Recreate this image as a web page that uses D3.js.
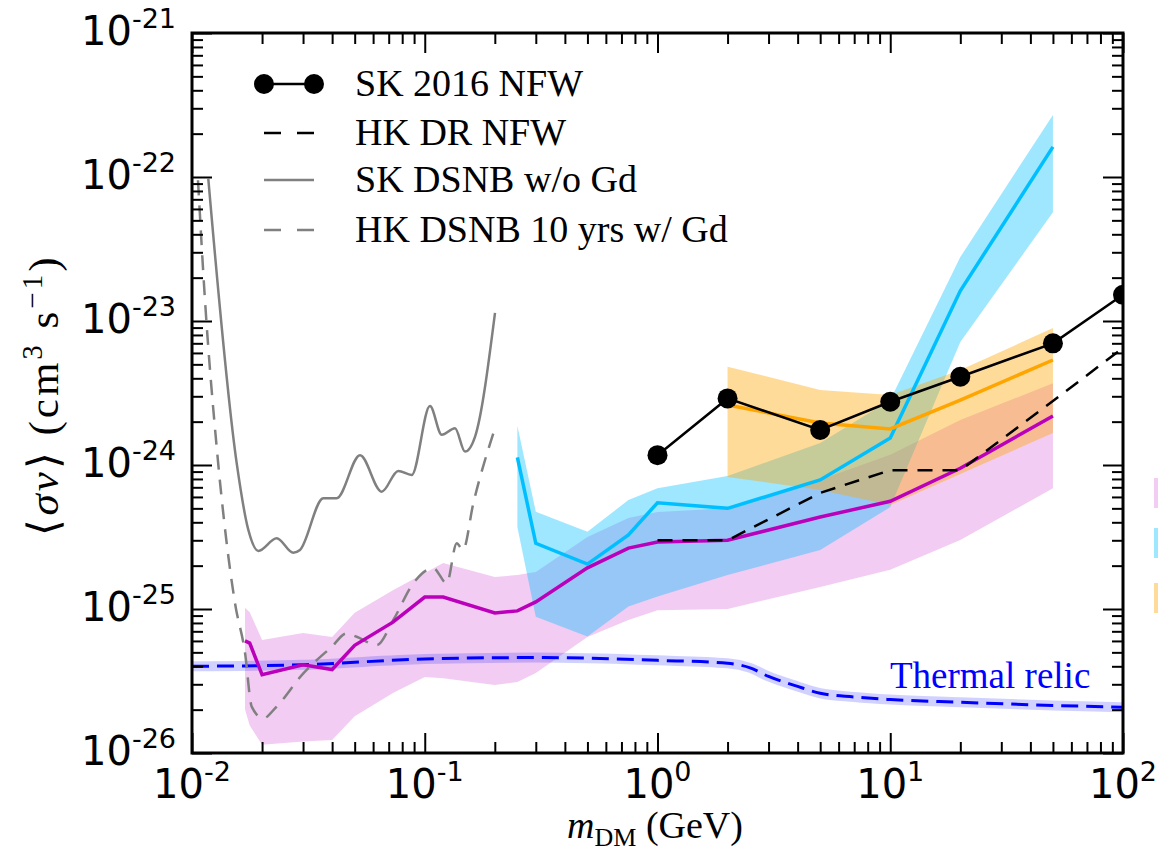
<!DOCTYPE html>
<html lang="en">
<head>
<meta charset="UTF-8">
<title>DM annihilation limits</title>
<script src="https://cdn.jsdelivr.net/npm/d3@7"></script>
<style>
  body { margin: 0; background: #ffffff; }
  svg { display: block; }
</style>
</head>
<body>
<div id="chart"></div>
<script>
// ---- data (mass in GeV, <sigma v> in cm^3/s) ----
var xTickExps = [-2, -1, 0, 1, 2];
var yTickExps = [-26, -25, -24, -23, -22, -21];

var thermalMass = [0.01, 0.03, 0.1, 0.3, 1, 2, 2.5, 3, 4, 5, 7, 10, 20, 50, 100];
var thermalSv = [4.0e-26, 4.1e-26, 4.5e-26, 4.6e-26, 4.4e-26, 4.2e-26, 3.9e-26, 3.4e-26, 2.9e-26, 2.6e-26, 2.45e-26, 2.35e-26, 2.25e-26, 2.14e-26, 2.08e-26];

var pinkMass = [0.0169, 0.0177, 0.02, 0.03, 0.04, 0.05, 0.073, 0.1, 0.12, 0.2, 0.25, 0.3, 0.5, 0.75, 1, 2, 5, 10, 20, 50];
var pinkMid = [6.0e-26, 5.8e-26, 3.5e-26, 4.1e-26, 3.8e-26, 5.6e-26, 8.1e-26, 1.21e-25, 1.21e-25, 9.4e-26, 9.7e-26, 1.12e-25, 1.93e-25, 2.65e-25, 2.92e-25, 3.0e-25, 4.35e-25, 5.6e-25, 9.5e-25, 2.19e-24];
var pinkHi = [1.02e-25, 9.5e-26, 6.1e-26, 6.8e-26, 6.4e-26, 9.4e-26, 1.35e-25, 1.78e-25, 2.09e-25, 1.67e-25, 1.72e-25, 1.81e-25, 3.16e-25, 4.29e-25, 4.72e-25, 5.0e-25, 7.9e-25, 1.18e-24, 2.05e-24, 3.7e-24];
var pinkLo = [2.0e-26, 1.55e-26, 1.14e-26, 1.2e-26, 1.23e-26, 1.8e-26, 2.61e-26, 3.37e-26, 3.3e-26, 2.97e-26, 3.11e-26, 3.6e-26, 6.4e-26, 8.4e-26, 9.8e-26, 1.0e-25, 1.42e-25, 1.87e-25, 3.01e-25, 6.9e-25];

var blueMass = [0.25, 0.3, 0.5, 0.75, 1, 2, 5, 10, 20, 50];
var blueMid = [1.13e-24, 2.86e-25, 2.05e-25, 3.27e-25, 5.47e-25, 5.0e-25, 7.87e-25, 1.54e-24, 1.62e-23, 1.62e-22];
var blueHi = [1.87e-24, 4.74e-25, 3.44e-25, 5.71e-25, 6.89e-25, 8.4e-25, 1.42e-24, 2.83e-24, 2.78e-23, 2.7e-22];
var blueLo = [3.71e-25, 8.85e-26, 6.43e-26, 1.04e-25, 1.22e-25, 1.72e-25, 2.57e-25, 5.1e-25, 7.14e-24, 5.7e-23];

var orangeMass = [2, 5, 10, 20, 50];
var orangeMid = [2.61e-24, 1.96e-24, 1.78e-24, 2.82e-24, 5.36e-24];
var orangeHi = [4.82e-24, 3.32e-24, 3.06e-24, 4.57e-24, 8.93e-24];
var orangeLo = [8.26e-25, 6.7e-25, 5.27e-25, 8.66e-25, 1.67e-24];

var skMass = [1, 2, 5, 10, 20, 50, 100];
var skSv = [1.17e-24, 2.9e-24, 1.75e-24, 2.75e-24, 4.1e-24, 7.0e-24, 1.52e-23];

var hkMass = [1, 2, 5, 10, 20, 50, 100];
var hkSv = [3.0e-25, 3.0e-25, 6.4e-25, 9.2e-25, 9.2e-25, 2.78e-24, 6.5e-24];

var skDsnbMass = [0.01175, 0.01556, 0.01746, 0.01928, 0.02312, 0.02724, 0.0291, 0.03665, 0.04185, 0.05271, 0.06531, 0.07697, 0.0879, 0.1053, 0.1183, 0.1349, 0.1489, 0.1644, 0.2004];
var skDsnbSv = [9.7e-23, 1.03e-24, 3.54e-25, 2.53e-25, 3.1e-25, 2.46e-25, 2.57e-25, 5.88e-25, 5.88e-25, 1.17e-24, 6.53e-25, 9.1e-25, 8.53e-25, 2.57e-24, 1.62e-24, 1.8e-24, 1.24e-24, 1.57e-24, 1.14e-23];

var hkDsnbMass = [0.01061, 0.01137, 0.0128, 0.0153, 0.0169, 0.01805, 0.02025, 0.02273, 0.03008, 0.03983, 0.04621, 0.05101, 0.06218, 0.07326, 0.08932, 0.1088, 0.1243, 0.1372, 0.146, 0.1617, 0.197];
var hkDsnbSv = [9.5e-23, 1.4e-23, 1.27e-24, 1.1e-25, 4.95e-26, 2.1e-26, 1.74e-26, 2.04e-26, 3.57e-26, 5.47e-26, 6.77e-26, 6.42e-26, 5.62e-26, 8.39e-26, 1.51e-25, 1.92e-25, 1.51e-25, 2.86e-25, 2.57e-25, 5.42e-25, 1.66e-24];

var legendLabels = ["SK 2016 NFW", "HK DR NFW", "SK DSNB w/o Gd", "HK DSNB 10 yrs w/ Gd"];

// ---- layout ----
var w = 1158, h = 861;
var pLeft = 192, pRight = 1123, pTop = 33, pBottom = 753;
var serif = "'Liberation Serif', 'Times New Roman', serif";
var sans = "'DejaVu Sans', sans-serif";

var svg = d3.select("#chart").append("svg")
    .attr("width", w)
    .attr("height", h);

var x = d3.scaleLog().domain([1e-2, 1e2]).range([pLeft, pRight]);
var y = d3.scaleLog().domain([1e-26, 1e-21]).range([pBottom, pTop]);

function zip(ms, vs) {
    return ms.map(function(m, i) { return [m, vs[i]]; });
}
function zipBand(ms, lo, hi) {
    return ms.map(function(m, i) { return {m: m, lo: lo[i], hi: hi[i]}; });
}

svg.append("clipPath").attr("id", "plotclip")
    .append("rect")
    .attr("x", pLeft).attr("y", pTop)
    .attr("width", pRight - pLeft).attr("height", pBottom - pTop);

var plot = svg.append("g").attr("clip-path", "url(#plotclip)");

var area = d3.area()
    .x(function(d) { return x(d.m); })
    .y0(function(d) { return y(d.lo); })
    .y1(function(d) { return y(d.hi); });

var line = d3.line()
    .x(function(d) { return x(d[0]); })
    .y(function(d) { return y(d[1]); });

var smooth = d3.line()
    .curve(d3.curveMonotoneX)
    .x(function(d) { return x(d[0]); })
    .y(function(d) { return y(d[1]); });

// bands
plot.append("path")
    .attr("d", area(zipBand(pinkMass, pinkLo, pinkHi)))
    .attr("fill", "#bf00bf").attr("fill-opacity", 0.2);
plot.append("path")
    .attr("d", area(zipBand(blueMass, blueLo, blueHi)))
    .attr("fill", "#00bfff").attr("fill-opacity", 0.38);
plot.append("path")
    .attr("d", area(zipBand(orangeMass, orangeLo, orangeHi)))
    .attr("fill", "#ffa500").attr("fill-opacity", 0.4);

// thermal relic
plot.append("path")
    .attr("d", smooth(zip(thermalMass, thermalSv)))
    .attr("fill", "none").attr("stroke", "#0000ff")
    .attr("stroke-opacity", 0.18).attr("stroke-width", 10);
plot.append("path")
    .attr("d", smooth(zip(thermalMass, thermalSv)))
    .attr("fill", "none").attr("stroke", "#0000ff")
    .attr("stroke-width", 3).attr("stroke-dasharray", "17,8");

// DSNB curves
plot.append("path")
    .attr("d", smooth(zip(skDsnbMass, skDsnbSv)))
    .attr("fill", "none").attr("stroke", "#808080").attr("stroke-width", 2.5);
plot.append("path")
    .attr("d", smooth(zip(hkDsnbMass, hkDsnbSv)))
    .attr("fill", "none").attr("stroke", "#808080").attr("stroke-width", 2.5)
    .attr("stroke-dasharray", "15,10");

// central lines of the bands
plot.append("path")
    .attr("d", line(zip(pinkMass, pinkMid)))
    .attr("fill", "none").attr("stroke", "#bb00bb").attr("stroke-width", 3.5);
plot.append("path")
    .attr("d", line(zip(blueMass, blueMid)))
    .attr("fill", "none").attr("stroke", "#00bfff").attr("stroke-width", 3.5);
plot.append("path")
    .attr("d", line(zip(orangeMass, orangeMid)))
    .attr("fill", "none").attr("stroke", "#ffa500").attr("stroke-width", 3.5);

// HK DR
plot.append("path")
    .attr("d", line(zip(hkMass, hkSv)))
    .attr("fill", "none").attr("stroke", "#000").attr("stroke-width", 2.5)
    .attr("stroke-dasharray", "15,10");

// SK 2016
plot.append("path")
    .attr("d", line(zip(skMass, skSv)))
    .attr("fill", "none").attr("stroke", "#000").attr("stroke-width", 2.5);
plot.selectAll(".sk-dot")
    .data(zip(skMass, skSv))
    .enter()
    .append("circle")
    .attr("class", "sk-dot")
    .attr("cx", function(d) { return x(d[0]); })
    .attr("cy", function(d) { return y(d[1]); })
    .attr("r", 10)
    .attr("fill", "#000");

plot.append("text")
    .attr("x", 890).attr("y", 688)
    .attr("font-family", serif).attr("font-size", 37)
    .attr("fill", "#0000ff")
    .text("Thermal relic");

// ---- axes: ticks point inward on all four sides ----
var xMajor = xTickExps.map(function(e) { return Math.pow(10, e); });
var yMajor = yTickExps.map(function(e) { return Math.pow(10, e); });
function minors(exps) {
    var out = [];
    for (var i = 0; i < exps.length - 1; i++) {
        for (var k = 2; k <= 9; k++) out.push(k * Math.pow(10, exps[i]));
    }
    return out;
}
var xMinor = minors(xTickExps);
var yMinor = minors(yTickExps);

function addAxis(axisFn, scale, vals, len, transform) {
    var g = svg.append("g")
        .attr("transform", transform)
        .call(axisFn(scale).tickValues(vals).tickSize(-len).tickFormat(""));
    g.select(".domain").remove();
    g.selectAll("line").attr("stroke", "#000").attr("stroke-width", 2);
}
addAxis(d3.axisBottom, x, xMajor, 20, "translate(0," + pBottom + ")");
addAxis(d3.axisBottom, x, xMinor, 11, "translate(0," + pBottom + ")");
addAxis(d3.axisTop, x, xMajor, 20, "translate(0," + pTop + ")");
addAxis(d3.axisTop, x, xMinor, 11, "translate(0," + pTop + ")");
addAxis(d3.axisLeft, y, yMajor, 20, "translate(" + pLeft + ",0)");
addAxis(d3.axisLeft, y, yMinor, 11, "translate(" + pLeft + ",0)");
addAxis(d3.axisRight, y, yMajor, 20, "translate(" + pRight + ",0)");
addAxis(d3.axisRight, y, yMinor, 11, "translate(" + pRight + ",0)");

svg.append("rect")
    .attr("x", pLeft).attr("y", pTop)
    .attr("width", pRight - pLeft).attr("height", pBottom - pTop)
    .attr("fill", "none").attr("stroke", "#000").attr("stroke-width", 3);

// tick labels as 10^n
function powLabel(sel, e) {
    sel.append("tspan").attr("font-size", 40).text("10");
    sel.append("tspan").attr("font-size", 27).attr("dy", -17).text(String(e));
}
xTickExps.forEach(function(e) {
    var t = svg.append("text")
        .attr("x", x(Math.pow(10, e)))
        .attr("y", 798)
        .attr("text-anchor", "middle")
        .attr("font-family", sans);
    powLabel(t, e);
});
yTickExps.forEach(function(e) {
    var t = svg.append("text")
        .attr("x", 176)
        .attr("y", y(Math.pow(10, e)) + 12)
        .attr("text-anchor", "end")
        .attr("font-family", sans);
    powLabel(t, e);
});

// axis titles
var xl = svg.append("text")
    .attr("x", 655).attr("y", 838)
    .attr("text-anchor", "middle")
    .attr("font-family", serif).attr("font-size", 38);
xl.append("tspan").attr("font-style", "italic").text("m");
xl.append("tspan").attr("font-size", 26).attr("dy", 8).text("DM");
xl.append("tspan").attr("dy", -8).text(" (GeV)");

var yl = svg.append("text")
    .attr("transform", "translate(58,395) rotate(-90)")
    .attr("text-anchor", "middle")
    .attr("font-family", serif).attr("font-size", 43)
    .attr("letter-spacing", 3);
yl.append("tspan").text("\u27E8");
yl.append("tspan").attr("font-style", "italic").text("\u03C3v");
yl.append("tspan").text("\u27E9 (cm");
yl.append("tspan").attr("font-size", 29).attr("dy", -16).text("3");
yl.append("tspan").attr("dy", 16).text(" s");
yl.append("tspan").attr("font-size", 29).attr("dy", -16).text("\u22121");
yl.append("tspan").attr("dy", 16).text(")");

// ---- legend ----
var legY = [84, 133, 180, 230];
var lx0 = 264, lx1 = 314, tx = 355;
svg.append("line")
    .attr("x1", lx0).attr("x2", lx1).attr("y1", legY[0]).attr("y2", legY[0])
    .attr("stroke", "#000").attr("stroke-width", 2.5);
svg.selectAll(".leg-dot")
    .data([lx0, lx1])
    .enter()
    .append("circle")
    .attr("class", "leg-dot")
    .attr("cx", function(d) { return d; })
    .attr("cy", legY[0])
    .attr("r", 10)
    .attr("fill", "#000");
svg.append("line")
    .attr("x1", lx0).attr("x2", lx1).attr("y1", legY[1]).attr("y2", legY[1])
    .attr("stroke", "#000").attr("stroke-width", 2.5).attr("stroke-dasharray", "17,16");
svg.append("line")
    .attr("x1", lx0).attr("x2", lx1).attr("y1", legY[2]).attr("y2", legY[2])
    .attr("stroke", "#808080").attr("stroke-width", 2.5);
svg.append("line")
    .attr("x1", lx0).attr("x2", lx1).attr("y1", legY[3]).attr("y2", legY[3])
    .attr("stroke", "#808080").attr("stroke-width", 2.5).attr("stroke-dasharray", "17,16");

svg.selectAll(".leg-text")
    .data(legendLabels)
    .enter()
    .append("text")
    .attr("class", "leg-text")
    .attr("x", tx)
    .attr("y", function(d, i) { return legY[i] + 12; })
    .attr("font-family", serif)
    .attr("font-size", 38)
    .text(function(d) { return d; });

// handles of a second legend, cut off by the right edge of the picture
var sideY = [478, 528, 583];
var sideFill = [["#bf00bf", 0.2], ["#00bfff", 0.38], ["#ffa500", 0.4]];
svg.selectAll(".side-patch")
    .data(sideY)
    .enter()
    .append("rect")
    .attr("class", "side-patch")
    .attr("x", 1154).attr("y", function(d) { return d; })
    .attr("width", 10).attr("height", 30)
    .attr("fill", function(d, i) { return sideFill[i][0]; })
    .attr("fill-opacity", function(d, i) { return sideFill[i][1]; });
</script>
</body>
</html>
